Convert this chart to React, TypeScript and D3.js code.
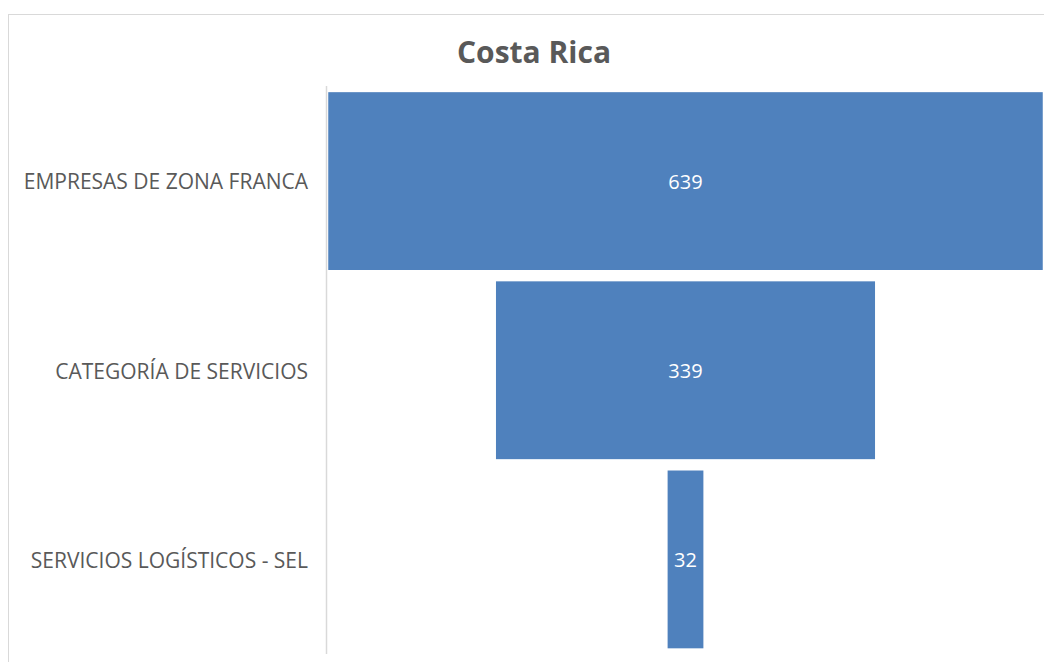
import React from "react";
import * as d3 from "d3";

const stages = ["EMPRESAS DE ZONA FRANCA", "CATEGORÍA DE SERVICIOS", "SERVICIOS LOGÍSTICOS - SEL"];
const counts = [639, 339, 32];
const title = "Costa Rica";

const W = 1044;
const H = 662;
const axisX = 326.5;
const centerX = 685.5;

export default function App() {
  const y = d3
    .scaleBand<string>()
    .domain(stages)
    .range([86.5, 654])
    .paddingInner(0.06)
    .paddingOuter(0.03);

  const w = d3.scaleLinear().domain([0, 639]).range([0, 714.5]);

  const font = "'Open Sans', sans-serif";

  return (
    <svg
      width={W}
      height={H}
      style={{ position: "absolute", left: 0, top: 0, background: "#fff" }}
    >
      <rect x={8.5} y={14.5} width={1100} height={700} fill="#fff" stroke="#d9d9d9" />
      <text
        x={534}
        y={63}
        textAnchor="middle"
        fontFamily={font}
        fontWeight="bold"
        fontSize={30}
        fill="#595959"
      >
        {title}
      </text>
      {stages.map((s, i) => {
        const bw = w(counts[i]);
        const y0 = y(s)!;
        const cy = y0 + y.bandwidth() / 2 + 1;
        return (
          <g key={s}>
            <rect x={centerX - bw / 2} y={y0} width={bw} height={y.bandwidth()} fill="#4f81bd" />
            <text
              x={centerX}
              y={cy}
              dy="0.35em"
              textAnchor="middle"
              fontFamily={font}
              fontSize={20}
              fill="#fff"
            >
              {counts[i]}
            </text>
            <text
              x={308}
              y={cy}
              dy="0.35em"
              textAnchor="end"
              fontFamily={font}
              fontSize={21}
              fill="#595959"
            >
              {s}
            </text>
          </g>
        );
      })}
      <line x1={axisX} x2={axisX} y1={86} y2={654} stroke="#d9d9d9" strokeWidth={1.5} />
    </svg>
  );
}
